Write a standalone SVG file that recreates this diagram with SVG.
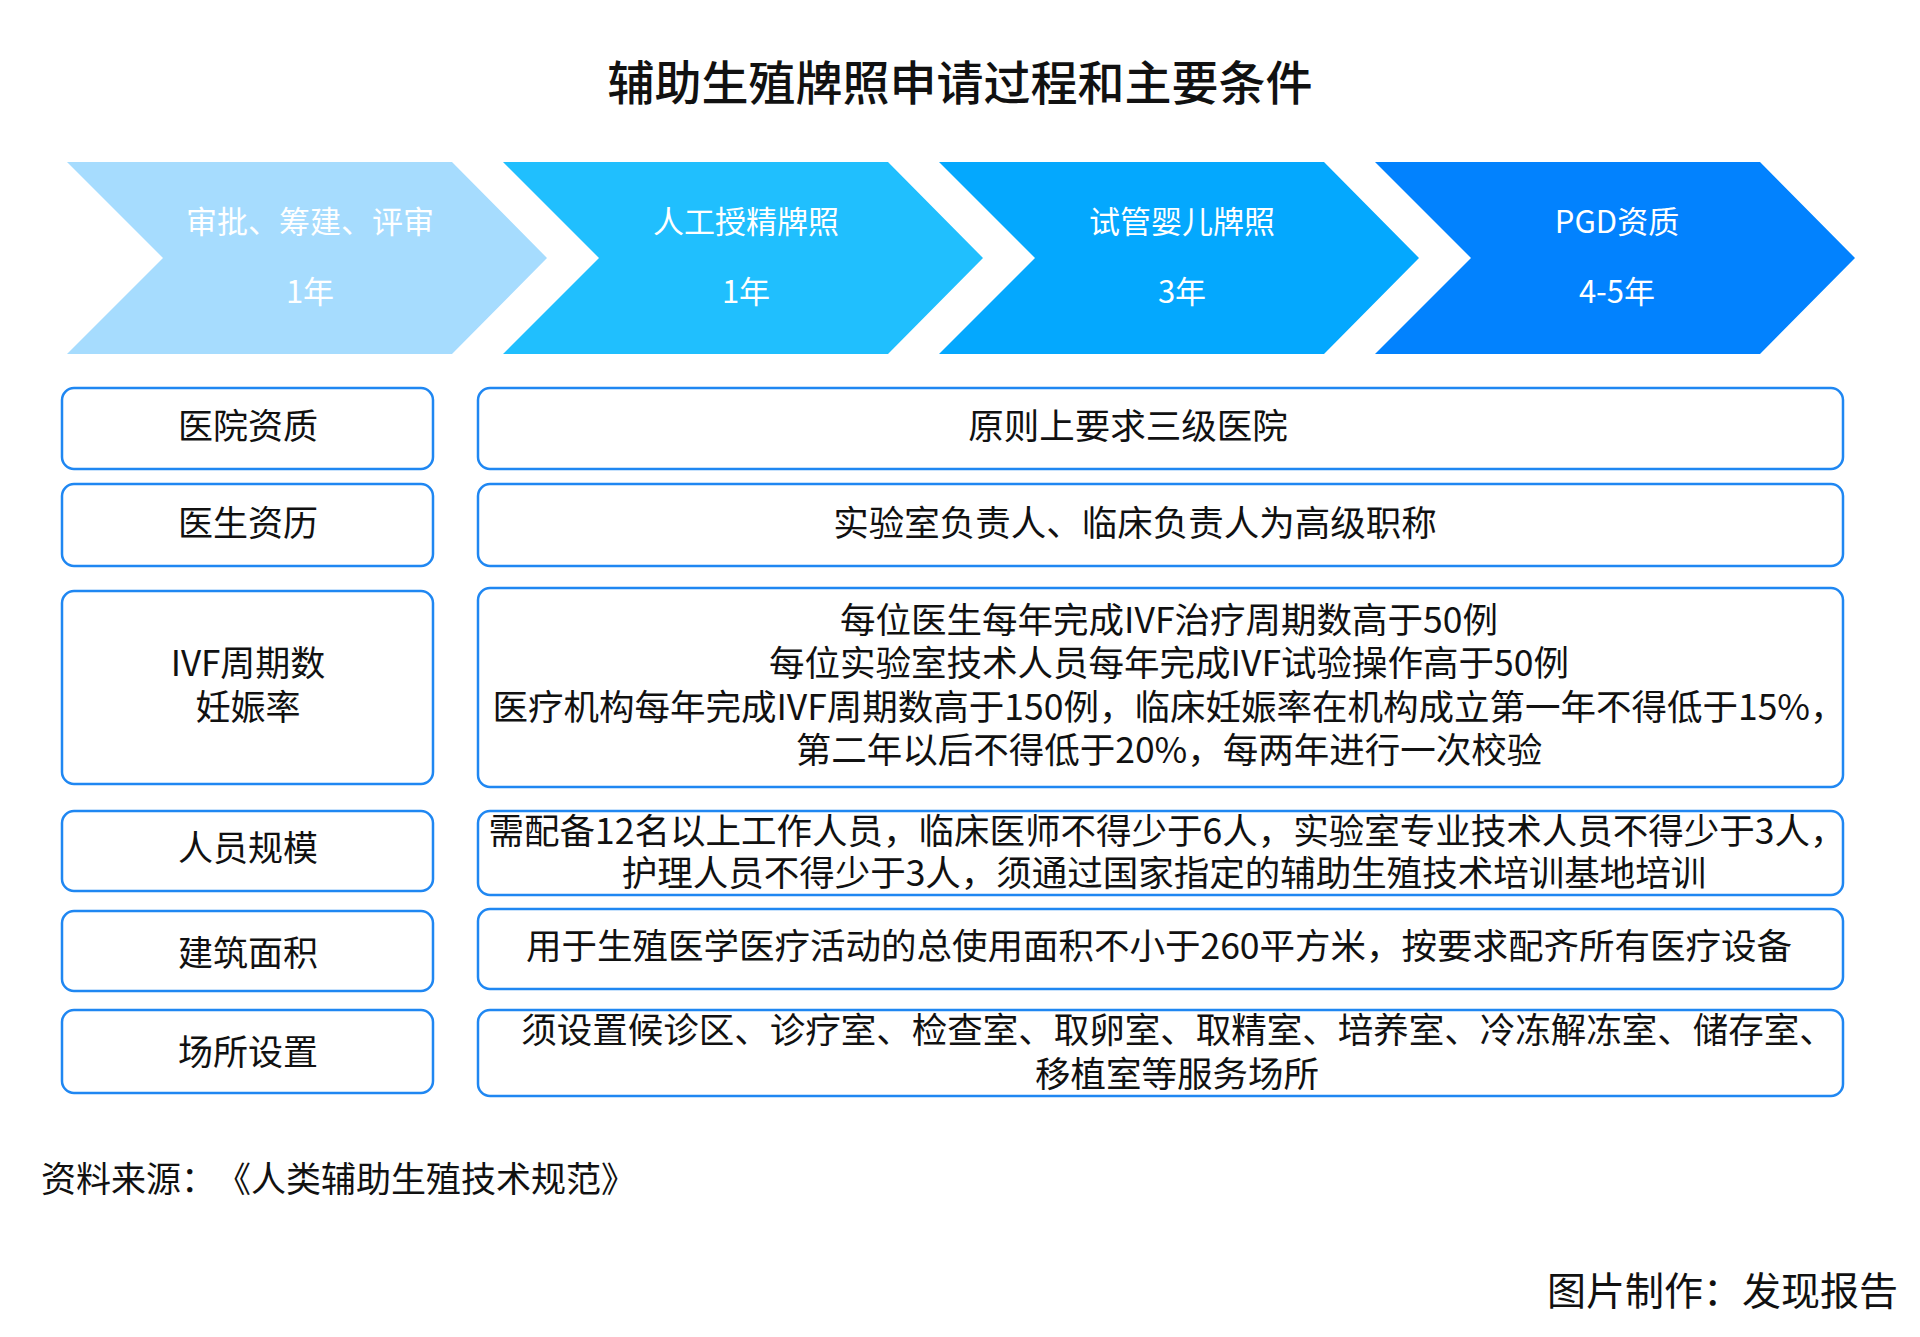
<svg xmlns="http://www.w3.org/2000/svg" width="1920" height="1337" viewBox="0 0 1920 1337">
<style>
text { font-family: "Noto Sans CJK SC", "Noto Sans", sans-serif; dominant-baseline: central; }
.title { font-size: 47px; font-weight: 500; fill: #111; text-anchor: middle; }
.chev { font-size: 31px; fill: #fff; text-anchor: middle; }
.box { fill: #fff; stroke: #1f87f2; stroke-width: 2.5; }
.lbl { font-size: 35px; fill: #111; text-anchor: middle; }
.txt { font-size: 35.5px; fill: #111; text-anchor: middle; }
.src { font-size: 35px; fill: #111; }
.cred { font-size: 39px; fill: #111; text-anchor: end; }
</style>
<rect width="1920" height="1337" fill="#fff"/>
<text class="title" x="960" y="79">辅助生殖牌照申请过程和主要条件</text>

<g id="step1">
<path d="M67,162 L452,162 L547,258 L452,354 L67,354 L163,258 Z" fill="#a6dcfe"/>
<text class="chev" x="310" y="219.5">审批、筹建、评审</text>
<text class="chev" x="310" y="289.5">1年</text>
</g>
<g id="step2">
<path d="M503,162 L888,162 L983,258 L888,354 L503,354 L599,258 Z" fill="#20bffe"/>
<text class="chev" x="746" y="219.5">人工授精牌照</text>
<text class="chev" x="746" y="289.5">1年</text>
</g>
<g id="step3">
<path d="M939,162 L1324,162 L1419,258 L1324,354 L939,354 L1035,258 Z" fill="#04a8fe"/>
<text class="chev" x="1182" y="219.5">试管婴儿牌照</text>
<text class="chev" x="1182" y="289.5">3年</text>
</g>
<g id="step4">
<path d="M1375,162 L1760,162 L1855,258 L1760,354 L1375,354 L1471,258 Z" fill="#0282fe"/>
<text class="chev" x="1617" y="219.5">PGD资质</text>
<text class="chev" x="1617" y="289.5">4-5年</text>
</g>

<g id="row1-label">
<rect class="box" x="62" y="388" width="371" height="81" rx="12"/>
<text class="lbl" x="248" y="423.5">医院资质</text>
</g>
<g id="row1-value">
<rect class="box" x="478" y="388" width="1365" height="81" rx="12"/>
<text class="txt" x="1128" y="423.5">原则上要求三级医院</text>
</g>

<g id="row2-label">
<rect class="box" x="62" y="484" width="371" height="82" rx="12"/>
<text class="lbl" x="248" y="520.5">医生资历</text>
</g>
<g id="row2-value">
<rect class="box" x="478" y="484" width="1365" height="82" rx="12"/>
<text class="txt" x="1135" y="520.5">实验室负责人、临床负责人为高级职称</text>
</g>

<g id="row3-label">
<rect class="box" x="62" y="591" width="371" height="193" rx="12"/>
<text class="lbl" x="248" y="660.5">IVF周期数</text>
<text class="lbl" x="248" y="704.5">妊娠率</text>
</g>
<g id="row3-value">
<rect class="box" x="478" y="588" width="1365" height="199" rx="12"/>
<text class="txt" x="1169" y="617.5">每位医生每年完成IVF治疗周期数高于50例</text>
<text class="txt" x="1169" y="660.5">每位实验室技术人员每年完成IVF试验操作高于50例</text>
<text class="txt" x="1169" y="704.5">医疗机构每年完成IVF周期数高于150例，临床妊娠率在机构成立第一年不得低于15%，</text>
<text class="txt" x="1169" y="747.5">第二年以后不得低于20%，每两年进行一次校验</text>
</g>

<g id="row4-label">
<rect class="box" x="62" y="811" width="371" height="80" rx="12"/>
<text class="lbl" x="248" y="845.5">人员规模</text>
</g>
<g id="row4-value">
<rect class="box" x="478" y="811" width="1365" height="84" rx="12"/>
<text class="txt" x="1167" y="828.5">需配备12名以上工作人员，临床医师不得少于6人，实验室专业技术人员不得少于3人，</text>
<text class="txt" x="1164" y="870.5">护理人员不得少于3人，须通过国家指定的辅助生殖技术培训基地培训</text>
</g>

<g id="row5-label">
<rect class="box" x="62" y="911" width="371" height="80" rx="12"/>
<text class="lbl" x="248" y="950.5">建筑面积</text>
</g>
<g id="row5-value">
<rect class="box" x="478" y="909" width="1365" height="80" rx="12"/>
<text class="txt" x="1159" y="943.5">用于生殖医学医疗活动的总使用面积不小于260平方米，按要求配齐所有医疗设备</text>
</g>

<g id="row6-label">
<rect class="box" x="62" y="1010" width="371" height="83" rx="12"/>
<text class="lbl" x="248" y="1049.5">场所设置</text>
</g>
<g id="row6-value">
<rect class="box" x="478" y="1010" width="1365" height="86" rx="12"/>
<text class="txt" x="1178" y="1027">须设置候诊区、诊疗室、检查室、取卵室、取精室、培养室、冷冻解冻室、储存室、</text>
<text class="txt" x="1177" y="1071">移植室等服务场所</text>
</g>

<g id="connectors"></g>

<text class="src" x="41" y="1176">资料来源：</text>
<text class="src" x="216" y="1176">《人类辅助生殖技术规范》</text>
<text class="cred" x="1898" y="1288">图片制作：发现报告</text>
</svg>
